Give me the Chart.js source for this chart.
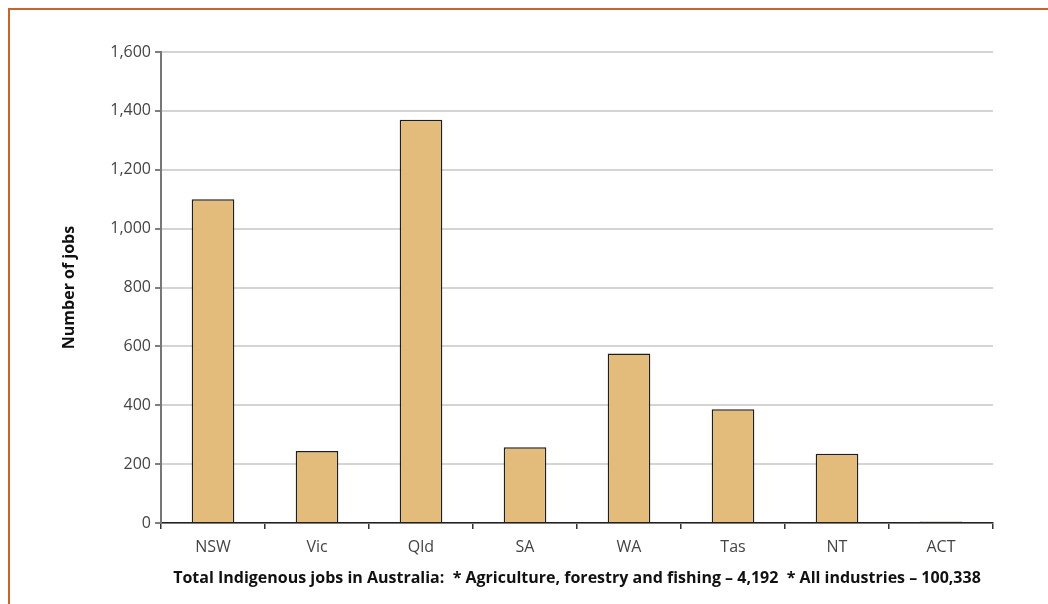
<!DOCTYPE html>
<html>
<head>
<meta charset="utf-8">
<script src="https://cdn.jsdelivr.net/npm/chart.js@4"></script>
<style>
  html, body { margin: 0; padding: 0; background: #fff; }
  #wrap { position: relative; width: 1048px; height: 604px; }
  #frame { position: absolute; left: 8px; top: 8px; right: 0; bottom: 0;
           border-top: 2px solid #c8652b; border-left: 2px solid #c8652b; }
  canvas { position: absolute; left: 0; top: 0; }
</style>
</head>
<body>
<div id="wrap">
  <div id="frame"></div>
  <canvas id="myChart" width="1048" height="604"></canvas>
</div>
<script>
// Estados y territorios
const estados = ['NSW', 'Vic', 'Qld', 'SA', 'WA', 'Tas', 'NT', 'ACT'];

// Empleos indígenas en agricultura, silvicultura y pesca
const empleos = [1100, 245, 1370, 257, 576, 386, 235, 5];

// Marcas del eje y
const yMin = 0;
const yMax = 1600;
const yPaso = 200;

const tituloX = 'Total Indigenous jobs in Australia:  * Agriculture, forestry and fishing \u2013 4,192  * All industries \u2013 100,338';
const tituloY = 'Number of jobs';

const fuente = "'Open Sans', 'Noto Sans', sans-serif";

const ctx = document.getElementById('myChart').getContext('2d');

const chart = new Chart(ctx, {
    type: 'bar',
    data: {
        labels: estados,
        datasets: [{
            label: 'Jobs',
            data: empleos,
            backgroundColor: '#e3bc7b',
            borderColor: '#1e1e1e',
            borderWidth: 1.5,
            barPercentage: 0.82,
            categoryPercentage: 0.5
        }]
    },
    options: {
        responsive: false,
        animation: false,
        events: [],
        layout: {
            padding: { left: 50, right: 55, top: 52, bottom: 10 }
        },
        plugins: {
            legend: { display: false },
            tooltip: { enabled: false }
        },
        scales: {
            x: {
                grid: {
                    offset: true,
                    drawOnChartArea: false,
                    drawTicks: true,
                    tickLength: 6,
                    tickColor: '#333',
                    lineWidth: 1.5
                },
                border: { color: '#222', width: 1.5 },
                ticks: {
                    color: '#444',
                    padding: 9,
                    font: { family: fuente, size: 16 }
                },
                title: {
                    display: true,
                    text: tituloX,
                    color: '#111',
                    padding: { top: 0, bottom: 6 },
                    font: { family: fuente, size: 16, weight: 'bold' }
                },
                afterFit: (scale) => { scale.height = 71; }
            },
            y: {
                min: yMin,
                max: yMax,
                ticks: {
                    stepSize: yPaso,
                    color: '#444',
                    padding: 4,
                    font: { family: fuente, size: 16 }
                },
                grid: {
                    color: '#d4d4d4',
                    lineWidth: 2,
                    tickLength: 6,
                    tickColor: '#555',
                    tickWidth: 1.5
                },
                border: { color: '#777', width: 2 },
                title: {
                    display: true,
                    text: tituloY,
                    color: '#111',
                    padding: { top: 10, bottom: 0 },
                    font: { family: fuente, size: 16, weight: 'bold' }
                },
                afterFit: (scale) => { scale.width = 111; }
            }
        }
    }
});
</script>
</body>
</html>
